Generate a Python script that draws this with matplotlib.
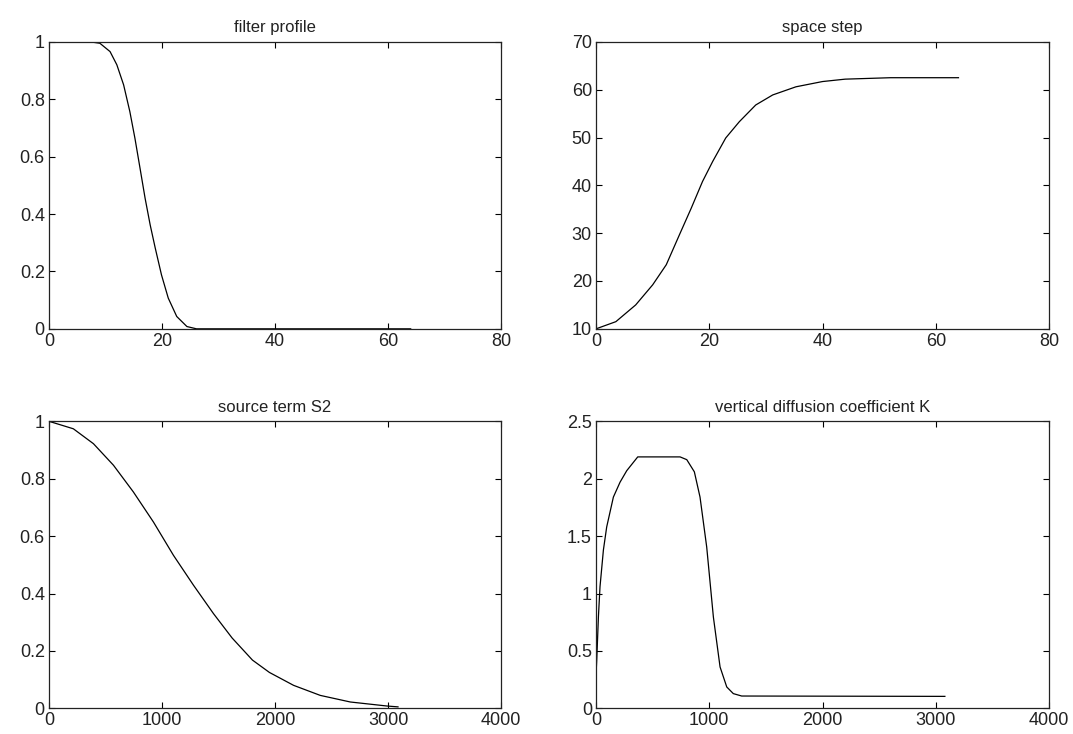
import numpy as np
import matplotlib.pyplot as plt

plt.rcParams["font.family"] = ["Liberation Sans", "DejaVu Sans"]

# filter profile
filt_x = [0, 3, 6, 7.3, 9, 10.8, 12, 13.2, 14.3, 15.2, 16.1, 17, 17.9, 18.8,
          19.9, 21.1, 22.6, 24.4, 26.1, 30, 40, 50, 64]
filt_y = [1, 1, 1, 1, 0.995, 0.966, 0.92, 0.85, 0.757, 0.664, 0.56, 0.455,
          0.362, 0.281, 0.188, 0.107, 0.043, 0.008, 0, 0, 0, 0, 0]

# space step
step_x = [0, 3.5, 7, 10, 12.4, 14.7, 16.8, 18.8, 20.6, 22.9, 25.3, 28.2, 31.2,
          35.3, 40, 44, 52, 64]
step_y = [10, 11.5, 15.0, 19.2, 23.4, 29.6, 35.2, 40.8, 45.0, 49.9, 53.3, 56.8,
          58.9, 60.6, 61.7, 62.2, 62.5, 62.5]

# source term S2
s2_x = [0, 215, 393, 570, 746, 924, 1101, 1278, 1455, 1620, 1800, 1950, 2164,
        2400, 2666, 2990, 3088]
s2_y = [1, 0.974, 0.922, 0.847, 0.754, 0.649, 0.533, 0.429, 0.33, 0.245, 0.168,
        0.125, 0.08, 0.045, 0.022, 0.008, 0.005]

# vertical diffusion coefficient K
k_x = [0, 6, 21, 35, 65, 94, 153, 212, 271, 368, 742, 801, 868, 918, 977, 1036,
       1095, 1154, 1212, 1286, 3080]
k_y = [0.3, 0.42, 0.8, 1.06, 1.38, 1.58, 1.84, 1.97, 2.07, 2.19, 2.19, 2.166,
       2.06, 1.84, 1.405, 0.795, 0.36, 0.186, 0.128, 0.107, 0.104]

fig = plt.figure(figsize=(10.73, 7.34), dpi=100)

panels = [
    ([0.0457, 0.552, 0.4213, 0.391], filt_x, filt_y, "filter profile",
     (0, 80), (0, 1), [0, 0.2, 0.4, 0.6, 0.8, 1]),
    ([0.5555, 0.552, 0.4222, 0.391], step_x, step_y, "space step",
     (0, 80), (10, 70), [10, 20, 30, 40, 50, 60, 70]),
    ([0.0457, 0.035, 0.4213, 0.391], s2_x, s2_y, "source term S2",
     (0, 4000), (0, 1), [0, 0.2, 0.4, 0.6, 0.8, 1]),
    ([0.5555, 0.035, 0.4222, 0.391], k_x, k_y, "vertical diffusion coefficient K",
     (0, 4000), (0, 2.5), [0, 0.5, 1, 1.5, 2, 2.5]),
]

for rect, x, y, title, xl, yl, yt in panels:
    ax = fig.add_axes(rect)
    ax.plot(x, y, color="black", linewidth=0.9)
    ax.set_xlim(*xl)
    ax.set_ylim(*yl)
    ax.set_yticks(yt)
    ax.set_yticklabels([f"{v:g}" for v in yt])
    xt = np.linspace(xl[0], xl[1], 5)
    ax.set_xticks(xt)
    ax.set_xticklabels([f"{v:g}" for v in xt])
    ax.set_title(title, fontsize=12, color="#222222", pad=7)
    ax.tick_params(direction="in", length=4, width=0.8, top=True, right=True,
                   labelsize=13, labelcolor="#222222", pad=3)
    for s in ax.spines.values():
        s.set_linewidth(0.9)
        s.set_color("#222222")

fig.savefig("out.png", dpi=100)
